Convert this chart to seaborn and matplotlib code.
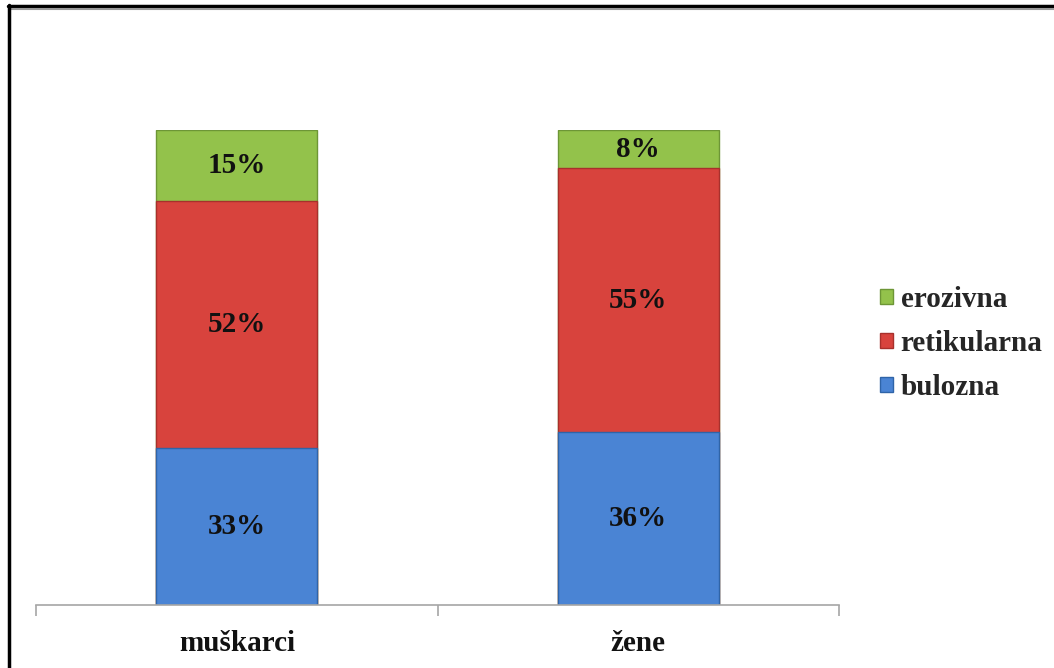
import numpy as np
import pandas as pd
import matplotlib
matplotlib.use("Agg")
import matplotlib.pyplot as plt
import seaborn as sns
from matplotlib.patches import Patch
from matplotlib.lines import Line2D

categories = ["muškarci", "žene"]
bulozna = [33, 36]
retikularna = [52, 55]
erozivna = [15, 8]
series_names = ["bulozna", "retikularna", "erozivna"]
colors = {"bulozna": "#4a84d4", "retikularna": "#d8433d", "erozivna": "#93c24b"}
edges = {"bulozna": "#2f64a8", "retikularna": "#a8302c", "erozivna": "#6d9636"}

sns.set_style("white")
plt.rcParams["font.family"] = ["Liberation Serif", "DejaVu Serif"]
plt.rcParams["font.weight"] = "bold"

df = pd.DataFrame({"kategorija": categories, "bulozna": bulozna,
                   "retikularna": retikularna, "erozivna": erozivna})
total = df[series_names].sum(axis=1)
# 100% stacked: normalise each bar
share = df[series_names].div(total, axis=0) * 100
cum = share.cumsum(axis=1)

fig = plt.figure(figsize=(10.54, 6.68), dpi=100)
ax = fig.add_axes([36 / 1054, 63 / 668, 803 / 1054, 475 / 668])

# draw from the top segment down so lower ones cover the upper ones
for name in reversed(series_names):
    sns.barplot(x=df["kategorija"], y=cum[name], color=colors[name], width=0.4,
                edgecolor=edges[name], linewidth=1.0, saturation=1, ax=ax)

for i in range(len(categories)):
    lower = 0
    for name in series_names:
        h = share.loc[i, name]
        ax.text(i, lower + h / 2, f"{df.loc[i, name]}%", ha="center", va="center",
                fontsize=21, fontweight="bold", color="#111111")
        lower += h

ax.set_xlim(-0.5, 1.5)
ax.set_ylim(0, 100)
ax.set_xlabel("")
ax.set_ylabel("")
ax.set_yticks([])
for s in ["top", "right", "left"]:
    ax.spines[s].set_visible(False)
ax.spines["bottom"].set_color("#a6a6a6")
ax.spines["bottom"].set_linewidth(1.2)
ax.set_xticks([0, 1])
ax.set_xticklabels(categories, fontsize=21, fontweight="bold", color="#111111")
ax.tick_params(axis="x", which="major", length=0, pad=18)
ax.set_xticks([-0.5, 0.5, 1.5], minor=True)
ax.tick_params(axis="x", which="minor", bottom=True, length=8, width=1.2,
               color="#a6a6a6", direction="out")

handles = [Patch(facecolor=colors[n], edgecolor=edges[n]) for n in reversed(series_names)]
fig.legend(handles, list(reversed(series_names)), loc="upper left",
           bbox_to_anchor=(854 / 1054, 1 - 260 / 668), frameon=False,
           prop={"family": "Liberation Serif", "weight": "bold", "size": 21},
           handlelength=0.42, handleheight=0.42, handletextpad=0.28, labelspacing=0.58)

# frame lines along top and left edge
fig.add_artist(Line2D([8 / 1054, 1], [1 - 6 / 668, 1 - 6 / 668], color="black", lw=2.5,
                      transform=fig.transFigure))
fig.add_artist(Line2D([10 / 1054, 1], [1 - 9 / 668, 1 - 9 / 668], color="#9a9a9a", lw=1.5,
                      transform=fig.transFigure))
fig.add_artist(Line2D([9 / 1054, 9 / 1054], [0, 1 - 5 / 668], color="black", lw=2.5,
                      transform=fig.transFigure))

fig.savefig("out.png", dpi=100)
